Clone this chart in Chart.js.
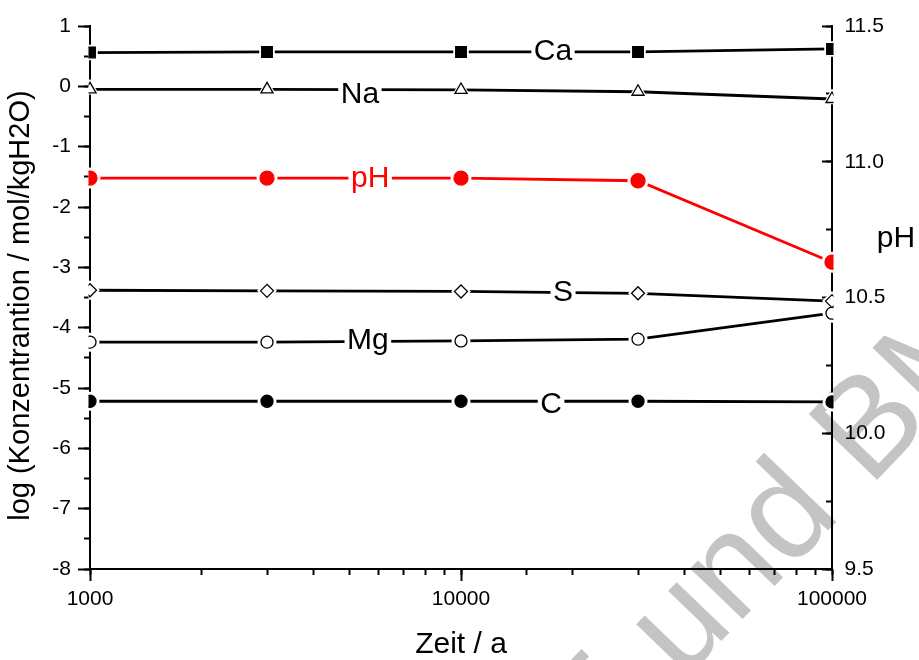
<!DOCTYPE html>
<html>
<head>
<meta charset="utf-8">
<script src="https://cdn.jsdelivr.net/npm/chart.js@4.4.1/dist/chart.umd.min.js"></script>
<style>
html,body{margin:0;padding:0;background:#fff;}
#wrap{width:919px;height:660px;}
</style>
</head>
<body>
<div id="wrap"><canvas id="chart" width="919" height="660"></canvas></div>
<script>
// Zeit (a) on log axis
const years = [1000, 3000, 10000, 30000, 100000];
const xTickValues = [1000, 10000, 100000];

// log concentration (mol/kgH2O), left axis
const ca = [0.56, 0.57, 0.57, 0.57, 0.62];
const na = [-0.05, -0.05, -0.06, -0.09, -0.21];
const s  = [-3.38, -3.39, -3.40, -3.43, -3.56];
const mg = [-4.24, -4.24, -4.22, -4.19, -3.76];
const c  = [-5.22, -5.22, -5.22, -5.22, -5.23];
// pH, right axis
const ph = [10.94, 10.94, 10.94, 10.93, 10.63];

// in-line labels and the x value where each sits on its line
const lineNames = ['Ca', 'Na', 'pH', 'S', 'Mg', 'C'];
const labelYears = [17700, 5340, 5690, 18840, 5610, 17490];

const FONT = 'Arial, "Liberation Sans", sans-serif';
Chart.defaults.font.family = FONT;
Chart.defaults.color = '#000';

const series = [
    {name:'Ca', data:ca, axis:'y',  color:'#000', style:'rect',     r:7.5, fill:'#000', dy:-3},
    {name:'Na', data:na, axis:'y',  color:'#000', style:'triangle', r:7,   fill:'#fff', dy:3},
    {name:'pH', data:ph, axis:'y2', color:'#ff0000', style:'circle', r:7, fill:'#ff0000', dy:-1.5},
    {name:'S',  data:s,  axis:'y',  color:'#000', style:'rectRot',  r:6.5, fill:'#fff', dy:-2},
    {name:'Mg', data:mg, axis:'y',  color:'#000', style:'circle',   r:6,   fill:'#fff', dy:-3.5},
    {name:'C',  data:c,  axis:'y',  color:'#000', style:'circle',   r:6,   fill:'#000', dy:1}
];

const datasets = [];
series.forEach(sr=>{
    const pts = years.map((x,i)=>({x:x, y:sr.data[i]}));
    // line with white halo round each point
    datasets.push({
        data:pts, yAxisID:sr.axis, borderColor:sr.color, borderWidth:2.8,
        pointStyle:sr.style, pointRadius:sr.r+3.5, pointBackgroundColor:'#fff',
        pointBorderColor:'#fff', pointBorderWidth:0, tension:0, order:2, clip:1.5
    });
    // markers on top
    datasets.push({
        data:pts, yAxisID:sr.axis, showLine:false,
        pointStyle:sr.style, pointRadius:sr.r, pointBackgroundColor:sr.fill,
        pointBorderColor:sr.color, pointBorderWidth:1.3, order:1, clip:1.5
    });
});

function interp(vals, x){
    const lx = Math.log10(x);
    for(let i=0;i<years.length-1;i++){
        const a = Math.log10(years[i]), b = Math.log10(years[i+1]);
        if(lx>=a && lx<=b){
            const t = (lx-a)/(b-a);
            return vals[i] + t*(vals[i+1]-vals[i]);
        }
    }
    return vals[vals.length-1];
}

// fixed box sizes, no extra label padding pushing the plot area
function fixSize(w, h){
    return function(sc){
        if(w!==null) sc.width = w;
        if(h!==null) sc.height = h;
        sc.paddingTop = 0; sc.paddingBottom = 0;
        sc.paddingLeft = 0; sc.paddingRight = 0;
    };
}

const annotate = {
    id:'annotate',
    beforeDraw(chart){
        const ctx = chart.ctx;
        ctx.save();
        ctx.fillStyle = '#c4c4c4';
        ctx.font = '138px ' + FONT;
        ctx.translate(592, 775);
        ctx.rotate(-46*Math.PI/180);
        ctx.fillText('E und BM', 0, 0);
        ctx.restore();
    },
    afterDatasetsDraw(chart){
        const ctx = chart.ctx;
        const xs = chart.scales.x;
        ctx.save();
        ctx.font = '30px ' + FONT;
        ctx.textAlign = 'center';
        ctx.textBaseline = 'alphabetic';
        lineNames.forEach((name,i)=>{
            const sr = series.find(d=>d.name===name);
            const px = xs.getPixelForValue(labelYears[i]);
            const py = chart.scales[sr.axis].getPixelForValue(interp(sr.data, labelYears[i]));
            const w = ctx.measureText(name).width + 5;
            ctx.fillStyle = '#fff';
            ctx.fillRect(px-w/2, py-8, w, 16);
            ctx.fillStyle = sr.color;
            ctx.fillText(name, px, py + 10.7 + sr.dy);
        });
        // right axis title, upright
        ctx.fillStyle = '#000';
        ctx.font = '30px ' + FONT;
        ctx.fillText('pH', 896, 247);
        ctx.restore();
    }
};

new Chart(document.getElementById('chart'), {
    type:'line',
    data:{datasets:datasets},
    options:{
        responsive:false,
        animation:false,
        events:[],
        layout:{padding:{top:26, left:0, right:0, bottom:0}},
        plugins:{legend:{display:false}, tooltip:{enabled:false}},
        scales:{
            x:{
                type:'logarithmic', position:'bottom', min:1000, max:100000, weight:1,
                afterFit:fixSize(null, 91),
                afterBuildTicks(sc){ sc.ticks = xTickValues.map(v=>({value:v})); },
                ticks:{font:{size:21}, padding:6, autoSkip:false, maxRotation:0, callback:v=>String(v)},
                grid:{drawOnChartArea:false, tickLength:12, tickWidth:2, tickColor:'#000'},
                border:{color:'#000', width:2},
                title:{display:true, text:'Zeit / a', font:{size:30, lineHeight:1}, padding:{top:0, bottom:0}}
            },
            xMinor:{
                type:'logarithmic', position:'bottom', min:1000, max:100000, weight:0,
                afterFit:fixSize(null, 0),
                ticks:{display:false},
                grid:{drawOnChartArea:false, tickLength:6, tickWidth:2, tickColor:'#000'},
                border:{display:false}
            },
            y:{
                type:'linear', position:'left', min:-8, max:1, weight:1,
                afterFit:fixSize(90, null),
                ticks:{stepSize:1, font:{size:21}, padding:7},
                grid:{drawOnChartArea:false, tickLength:12, tickWidth:2, tickColor:'#000'},
                border:{color:'#000', width:2},
                title:{display:true, text:'log (Konzentrantion / mol/kgH2O)  ', font:{size:29, lineHeight:1}, padding:{top:6, bottom:0}}
            },
            yMinor:{
                type:'linear', position:'left', min:-8, max:1, weight:0,
                afterFit:fixSize(0, null),
                ticks:{display:false, stepSize:0.5},
                grid:{drawOnChartArea:false, tickLength:6, tickWidth:2, tickColor:'#000'},
                border:{display:false}
            },
            y2:{
                type:'linear', position:'right', min:9.5, max:11.5, weight:1,
                afterFit:fixSize(87, null),
                ticks:{stepSize:0.5, font:{size:21}, padding:22.5, callback:v=>v.toFixed(1)},
                grid:{drawOnChartArea:false, tickLength:-10, tickWidth:2, tickColor:'#000'},
                border:{color:'#000', width:2}
            },
            y2Minor:{
                type:'linear', position:'right', min:9.5, max:11.5, weight:0,
                afterFit:fixSize(0, null),
                ticks:{display:false, stepSize:0.25},
                grid:{drawOnChartArea:false, tickLength:-6, tickWidth:2, tickColor:'#000'},
                border:{display:false}
            }
        }
    },
    plugins:[annotate]
});
</script>
</body>
</html>
